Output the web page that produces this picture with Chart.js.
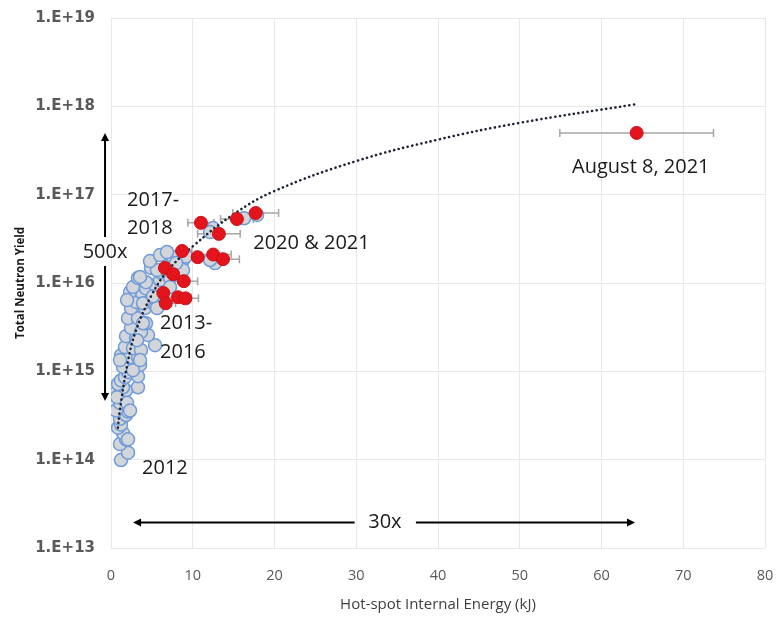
<!DOCTYPE html>
<html>
<head>
<meta charset="utf-8">
<script src="https://cdn.jsdelivr.net/npm/chart.js@4.4.1/dist/chart.umd.min.js"></script>
<style>
  html, body { margin: 0; padding: 0; background: #fff; }
  #wrap { width: 778px; height: 617px; }
</style>
</head>
<body>
<div id="wrap"><canvas id="myChart" width="778" height="617"></canvas></div>
<script>
// blue points (earlier shots), energy in kJ / yield
var blueX = [1.22, 2.08, 1.10, 1.84, 1.47, 0.86, 1.22, 1.10, 1.84, 2.08, 0.61, 1.10, 0.61, 1.22, 1.84,
  3.30, 1.47, 0.86, 1.22, 1.71, 2.08, 3.30, 3.55, 2.45, 1.47, 2.69, 1.22, 2.33, 3.30, 1.71,
  2.69, 3.67, 5.39, 1.84, 3.06, 4.53, 2.45, 3.67, 4.28, 2.08, 3.30, 2.45, 4.16, 5.39, 3.06,
  4.77, 3.67, 2.33, 2.69, 4.28, 5.39, 3.30, 4.28, 6.00, 7.22, 4.90, 6.00, 5.63, 4.77, 6.36,
  7.59, 8.81, 8.81, 7.22, 3.92, 5.63, 3.55, 1.96, 3.92, 3.18, 1.10, 3.55, 0.73, 1.96, 2.33,
  2.08, 6.00, 6.85, 12.48, 12.12, 17.87, 16.28, 12.73, 12.12, 9.18, 5.14, 7.96];
var blueY = [9.9e13, 1.2e14, 1.5e14, 1.7e14, 2.0e14, 2.3e14, 2.5e14, 2.9e14, 3.2e14, 3.5e14, 3.6e14, 4.4e14, 5.7e14, 5.8e14, 6.1e14,
  6.6e14, 6.6e14, 7.2e14, 7.9e14, 8.6e14, 9.8e14, 8.8e14, 1.18e15, 1.24e15, 1.12e15, 1.03e15, 1.52e15, 1.45e15, 1.45e15, 1.88e15,
  1.83e15, 1.74e15, 1.98e15, 2.5e15, 2.38e15, 2.57e15, 3.1e15, 2.8e15, 3.5e15, 4.0e15, 4.0e15, 5.2e15, 5.2e15, 5.6e15, 6.1e15,
  6.9e15, 7.9e15, 7.9e15, 9.0e15, 8.7e15, 9.5e15, 1.14e16, 1.02e16, 1.08e16, 1.14e16, 1.48e16, 1.33e16, 1.4e16, 1.77e16, 2.07e16,
  1.96e16, 1.82e16, 1.4e16, 9.0e15, 5.9e15, 5.2e15, 1.17e16, 6.4e15, 3.5e15, 2.25e15, 1.34e15, 1.34e15, 5.1e14, 4.4e14, 3.6e14,
  1.7e14, 2.07e16, 2.24e16, 4.19e16, 3.77e16, 5.9e16, 5.4e16, 1.68e16, 1.82e16, 2.0e16, 7.1e15, 1.68e16];

// red points (2013-2021) with x error
var redX = [11.0, 15.4, 17.7, 13.2, 8.7, 10.6, 12.5, 13.7, 6.6, 7.6, 8.9, 6.4, 8.2, 9.1, 6.7, 64.3];
var redY = [4.8e16, 5.3e16, 6.2e16, 3.6e16, 2.3e16, 1.96e16, 2.1e16, 1.86e16, 1.48e16, 1.26e16, 1.05e16, 7.7e15, 6.9e15, 6.7e15, 5.9e15, 5.0e17];
var redErr = [1.6, 2.0, 2.8, 2.6, 1.2, 1.2, 2.2, 2.0, 1.2, 1.2, 1.7, 1.2, 1.6, 1.6, 1.2, 9.4];

// dotted trend line
var trendX = [0.85, 1.0, 2, 3, 5, 7, 10, 15, 20, 30, 40, 50, 64];
var trendY = [2.3e14, 3.2e14, 1.2e15, 2.8e15, 7.4e15, 1.4e16, 2.6e16, 6.0e16, 1.1e17, 2.4e17, 4.2e17, 6.5e17, 1.05e18];

var yTickValues = [1e13, 1e14, 1e15, 1e16, 1e17, 1e18, 1e19];
var yTickLabels = ['1.E+13', '1.E+14', '1.E+15', '1.E+16', '1.E+17', '1.E+18', '1.E+19'];

function pts(xs, ys) {
  var out = [];
  for (var i = 0; i < xs.length; i++) {
    out.push({x: xs[i], y: ys[i]});
  }
  return out;
}

// error bars, drawn under the points
var errorBars = {
  id: 'errorBars',
  beforeDatasetsDraw: function(chart) {
    var ctx = chart.ctx;
    var xs = chart.scales.x, ys = chart.scales.y;
    ctx.save();
    ctx.strokeStyle = '#a6a6a6';
    ctx.lineWidth = 1.5;
    for (var i = 0; i < redX.length; i++) {
      var y = ys.getPixelForValue(redY[i]);
      var x1 = xs.getPixelForValue(redX[i] - redErr[i]);
      var x2 = xs.getPixelForValue(redX[i] + redErr[i]);
      ctx.beginPath();
      ctx.moveTo(x1, y); ctx.lineTo(x2, y);
      ctx.moveTo(x1, y - 4); ctx.lineTo(x1, y + 4);
      ctx.moveTo(x2, y - 4); ctx.lineTo(x2, y + 4);
      ctx.stroke();
    }
    ctx.restore();
  }
};

// text labels and arrows
var notes = {
  id: 'notes',
  afterDatasetsDraw: function(chart) {
    var ctx = chart.ctx;
    var xs = chart.scales.x, ys = chart.scales.y;
    var px = function(v) { return xs.getPixelForValue(v); };
    var py = function(v) { return ys.getPixelForValue(v); };
    ctx.save();
    ctx.fillStyle = '#1a1a1a';
    ctx.font = '20px "Open Sans"';
    ctx.textBaseline = 'middle';
    ctx.textAlign = 'left';
    ctx.fillText('2017-', px(1.96), py(8.7e16));
    ctx.fillText('2018', px(1.96), py(4.2e16));
    ctx.fillText('2020 & 2021', px(17.4), py(2.8e16));
    ctx.fillText('2013-', px(6.0), py(3.5e15));
    ctx.fillText('2016', px(6.0), py(1.66e15));
    ctx.fillText('2012', px(3.8), py(8e13));
    ctx.fillText('August 8, 2021', px(56.4), py(2.05e17));
    ctx.textAlign = 'center';
    ctx.fillText('500x', px(-0.73), py(2.24e16));
    ctx.fillText('30x', px(33.5), py(1.95e13));

    ctx.strokeStyle = '#000';
    ctx.lineWidth = 2;
    // vertical arrow
    var ax = px(-0.73);
    var top = py(5e17), bot = py(4.6e14);
    ctx.beginPath();
    ctx.moveTo(ax, top + 6); ctx.lineTo(ax, py(2.24e16) - 15);
    ctx.moveTo(ax, py(2.24e16) + 14); ctx.lineTo(ax, bot - 6);
    ctx.stroke();
    ctx.beginPath();
    ctx.moveTo(ax, top); ctx.lineTo(ax - 4, top + 8); ctx.lineTo(ax + 4, top + 8); ctx.closePath();
    ctx.moveTo(ax, bot); ctx.lineTo(ax - 4, bot - 8); ctx.lineTo(ax + 4, bot - 8); ctx.closePath();
    ctx.fillStyle = '#000';
    ctx.fill();
    // horizontal arrow
    var ay = py(1.95e13);
    var l = px(2.7), r = px(64.1);
    ctx.beginPath();
    ctx.moveTo(l + 6, ay); ctx.lineTo(px(29.8), ay);
    ctx.moveTo(px(37.3), ay); ctx.lineTo(r - 6, ay);
    ctx.stroke();
    ctx.beginPath();
    ctx.moveTo(l, ay); ctx.lineTo(l + 8, ay - 4); ctx.lineTo(l + 8, ay + 4); ctx.closePath();
    ctx.moveTo(r, ay); ctx.lineTo(r - 8, ay - 4); ctx.lineTo(r - 8, ay + 4); ctx.closePath();
    ctx.fill();
    ctx.restore();
  }
};

Chart.defaults.font.family = '"Open Sans", sans-serif';

var ctx = document.getElementById('myChart').getContext('2d');
var chart = new Chart(ctx, {
  type: 'scatter',
  data: {
    datasets: [{
      label: 'recent',
      data: pts(redX, redY),
      backgroundColor: '#e3141b',
      borderColor: '#cc1017',
      borderWidth: 1,
      pointRadius: 6.5,
      order: 0
    }, {
      label: 'trend',
      type: 'line',
      data: pts(trendX, trendY),
      borderColor: '#1c2233',
      borderWidth: 2.6,
      borderDash: [0.1, 4.6],
      borderCapStyle: 'round',
      pointRadius: 0,
      fill: false,
      tension: 0.4,
      order: 1
    }, {
      label: 'earlier',
      data: pts(blueX, blueY),
      backgroundColor: '#d2d5da',
      borderColor: '#6f9bd8',
      borderWidth: 1.5,
      pointRadius: 6.5,
      order: 2
    }]
  },
  options: {
    responsive: false,
    animation: false,
    layout: { padding: { top: 18, right: 13, left: 0, bottom: 0 } },
    plugins: {
      legend: { display: false },
      tooltip: { enabled: false }
    },
    scales: {
      x: {
        type: 'linear',
        min: 0,
        max: 80,
        ticks: { stepSize: 10, padding: 19, color: '#595959', font: { size: 14.5 } },
        grid: { color: '#e8e8e8', drawTicks: false },
        border: { display: false },
        title: { display: true, text: 'Hot-spot Internal Energy (kJ)', color: '#404040', font: { size: 15 }, padding: { top: 0, bottom: 3 } },
        afterFit: function(s) { s.height = 69; s.paddingLeft = 0; s.paddingRight = 0; }
      },
      y: {
        type: 'logarithmic',
        min: 1e13,
        max: 1e19,
        afterBuildTicks: function(s) {
          s.ticks = yTickValues.map(function(v) { return {value: v}; });
        },
        ticks: {
          padding: 16,
          color: '#595959',
          font: { family: '"DejaVu Sans"', size: 15, weight: 'bold' },
          callback: function(v) {
            var i = yTickValues.indexOf(v);
            return i >= 0 ? yTickLabels[i] : '';
          }
        },
        grid: { color: '#e8e8e8', drawTicks: false },
        border: { display: false },
        title: { display: true, text: 'Total Neutron Yield', color: '#1a1a1a', font: { size: 11.5, weight: 'bold' }, padding: { top: 14, bottom: 0 } },
        afterFit: function(s) { s.width = 111; s.paddingTop = 0; s.paddingBottom = 0; }
      }
    }
  },
  plugins: [errorBars, notes]
});
</script>
</body>
</html>
